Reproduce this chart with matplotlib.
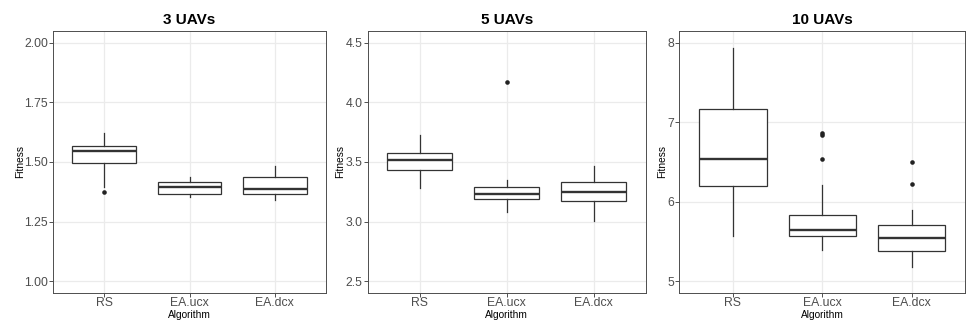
import matplotlib
matplotlib.use("Agg")
import matplotlib.pyplot as plt
from matplotlib.ticker import FormatStrFormatter

plt.rcParams['font.family'] = ['Liberation Sans', 'DejaVu Sans']

algorithms = ["RS", "EA.ucx", "EA.dcx"]
titles = ["3 UAVs", "5 UAVs", "10 UAVs"]

# box statistics, one list per panel (RS, EA.ucx, EA.dcx)
lo_3 = [1.396, 1.352, 1.340]
q1_3 = [1.497, 1.366, 1.366]
med_3 = [1.548, 1.394, 1.385]
q3_3 = [1.567, 1.415, 1.438]
hi_3 = [1.623, 1.438, 1.483]
out_3 = [[1.374], [], []]

lo_5 = [3.282, 3.077, 3.002]
q1_5 = [3.429, 3.190, 3.175]
med_5 = [3.518, 3.234, 3.245]
q3_5 = [3.574, 3.287, 3.332]
hi_5 = [3.728, 3.351, 3.468]
out_5 = [[], [4.174], []]

lo_10 = [5.574, 5.398, 5.181]
q1_10 = [6.200, 5.565, 5.386]
med_10 = [6.536, 5.640, 5.545]
q3_10 = [7.164, 5.829, 5.708]
hi_10 = [7.930, 6.214, 5.900]
out_10 = [[], [6.863, 6.843, 6.536], [6.499, 6.222]]

yticks = [[1.00, 1.25, 1.50, 1.75, 2.00], [2.5, 3.0, 3.5, 4.0, 4.5], [5, 6, 7, 8]]
yfmt = ['%.2f', '%.1f', '%d']
ylims = [(0.95, 2.05), (2.4, 4.6), (4.85, 8.15)]

panels = [
    (lo_3, q1_3, med_3, q3_3, hi_3, out_3),
    (lo_5, q1_5, med_5, q3_5, hi_5, out_5),
    (lo_10, q1_10, med_10, q3_10, hi_10, out_10),
]

W, H = 966, 322
# panel boxes in pixels: left, right (top/bottom shared)
px = [(53, 326), (367.7, 646), (679.3, 965.5)]
top, bottom = 30.7, 293.3
ylab_x = [20, 340, 661.7]

fig = plt.figure(figsize=(W / 100, H / 100), dpi=100)
fig.patch.set_facecolor('white')

dark = '#333333'
for i, (lo, q1, med, q3, hi, out) in enumerate(panels):
    l, r = px[i]
    ax = fig.add_axes([l / W, 1 - bottom / H, (r - l) / W, (bottom - top) / H])
    stats = []
    for k, name in enumerate(algorithms):
        stats.append(dict(label=name, whislo=lo[k], q1=q1[k], med=med[k],
                          q3=q3[k], whishi=hi[k], fliers=out[k]))
    ax.bxp(stats, positions=[1, 2, 3], widths=0.75, patch_artist=True,
           showcaps=False,
           boxprops=dict(facecolor='white', edgecolor=dark, linewidth=0.9),
           medianprops=dict(color=dark, linewidth=1.7, solid_capstyle='butt'),
           whiskerprops=dict(color=dark, linewidth=0.9),
           flierprops=dict(marker='o', markersize=3.3, markerfacecolor='#222222',
                           markeredgecolor='none'))
    ax.set_xlim(0.4, 3.6)
    ax.set_ylim(*ylims[i])
    ax.set_yticks(yticks[i])
    ax.yaxis.set_major_formatter(FormatStrFormatter(yfmt[i]))
    ax.set_xticks([1, 2, 3])
    ax.set_xticklabels(algorithms)
    ax.grid(True, color='#EBEBEB', linewidth=0.9)
    ax.set_axisbelow(True)
    for s in ax.spines.values():
        s.set_color('#4d4d4d')
        s.set_linewidth(0.7)
    ax.tick_params(axis='both', length=2.6, width=0.6, color=dark,
                   labelcolor='#4D4D4D', labelsize=8.8, pad=1)
    ax.tick_params(axis='x', pad=0.3)
    ax.set_title(titles[i], fontsize=11, fontweight='bold', pad=5)
    ax.set_xlabel('Algorithm', fontsize=7.3)
    ax.xaxis.label.set_va('center')
    ax.xaxis.set_label_coords(0.5, (bottom - 314.5) / (bottom - top))
    ax.set_ylabel('Fitness', fontsize=7.3)
    ax.yaxis.label.set_va('center')
    ax.yaxis.set_label_coords((ylab_x[i] - l) / (r - l), 0.5)

fig.savefig('out.png', dpi=100)
